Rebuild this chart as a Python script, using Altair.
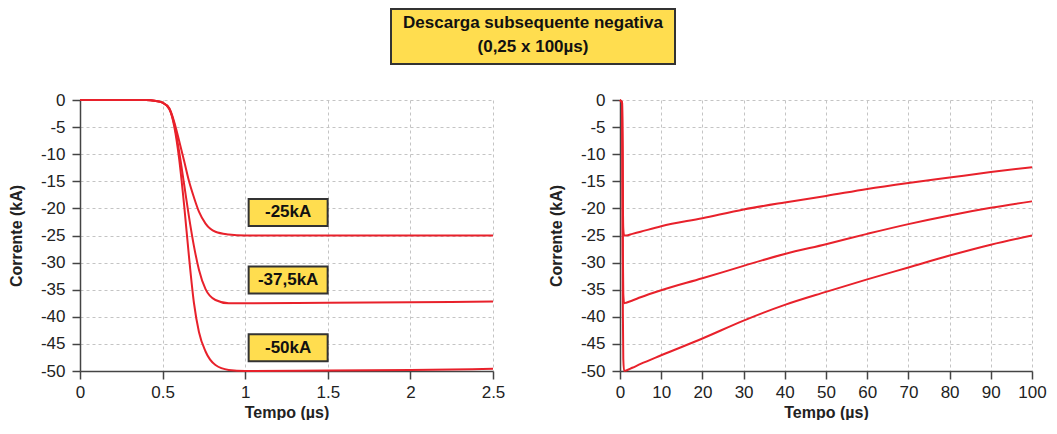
import altair as alt
import pandas as pd

# ---------------- data ----------------
TITLE_LINES = ["Descarga subsequente negativa", "(0,25 x 100µs)"]
SERIES = ["-25kA", "-37,5kA", "-50kA"]

# left panel: front of the wave (0 - 2.5 µs)
T_FRONT = [0, 0.3, 0.4, 0.46, 0.5, 0.54, 0.57, 0.60, 0.63, 0.66, 0.69, 0.72,
           0.76, 0.82, 0.90, 1.0, 1.5, 2.0, 2.5]
I_FRONT_25 = [0, 0, 0, -0.2, -0.5, -1.5, -4.0, -7.5, -11.2, -15.0, -18.0, -20.6,
              -22.8, -24.3, -24.8, -25.0, -25.0, -25.0, -25.0]
I_FRONT_375 = [0, 0, 0, -0.2, -0.5, -1.6, -4.4, -9.5, -15.5, -21.6, -27.0, -31.3,
               -34.9, -36.9, -37.5, -37.5, -37.4, -37.3, -37.2]
I_FRONT_50 = [0, 0, 0, -0.2, -0.5, -1.6, -4.8, -10.8, -19.3, -29.0, -37.5, -42.8,
              -46.4, -48.9, -49.8, -50.0, -49.9, -49.8, -49.6]

# right panel: whole wave (0 - 100 µs)
T_TAIL = [0, 0.5, 0.6, 0.7, 0.8, 1.0, 1.5, 3, 5, 10, 20, 30, 40, 50, 60, 70, 80, 90, 100]
I_TAIL_25 = [0, -0.5, -7.5, -18.8, -23.8, -25.0, -25.0, -24.7, -24.3, -23.3, -21.8,
             -20.2, -18.9, -17.7, -16.4, -15.3, -14.3, -13.3, -12.4]
I_TAIL_375 = [0, -0.5, -9.5, -28.5, -35.8, -37.5, -37.4, -37.0, -36.4, -35.1, -32.9,
              -30.6, -28.4, -26.6, -24.7, -22.9, -21.3, -19.9, -18.7]
I_TAIL_50 = [0, -0.5, -10.8, -39.5, -47.8, -50.0, -49.9, -49.4, -48.7, -47.1, -44.0,
             -40.7, -37.8, -35.4, -33.1, -30.9, -28.7, -26.7, -25.0]

# labels in the left panel
LABEL_T = [1.26, 1.26, 1.26]
LABEL_I = [-20.75, -33.2, -45.7]

X_TICKS_LEFT = [0, 0.5, 1, 1.5, 2, 2.5]
X_TICKS_RIGHT = [0, 10, 20, 30, 40, 50, 60, 70, 80, 90, 100]
Y_TICKS = [-50, -45, -40, -35, -30, -25, -20, -15, -10, -5, 0]

# ---------------- styles ----------------
RED = "#E8212B"
YELLOW = "#FFDD4F"
DARK = "#333333"
FONT = "Liberation Sans"


def long_df(t, series_vals):
    rows = []
    for name, vals in zip(SERIES, series_vals):
        for ti, vi in zip(t, vals):
            rows.append({"t": ti, "i": vi, "s": name})
    return pd.DataFrame(rows)


front = long_df(T_FRONT, [I_FRONT_25, I_FRONT_375, I_FRONT_50])
tail = long_df(T_TAIL, [I_TAIL_25, I_TAIL_375, I_TAIL_50])
labels = pd.DataFrame({"t": LABEL_T, "i": LABEL_I, "label": SERIES})

y_enc = alt.Y("i:Q", scale=alt.Scale(domain=[-50, 0], nice=False),
              axis=alt.Axis(values=Y_TICKS, title="Corrente (kA)",
                            labelExpr="toString(datum.value)"))


def x_enc(domain, ticks):
    return alt.X("t:Q", scale=alt.Scale(domain=domain, nice=False),
                 axis=alt.Axis(values=ticks, title="Tempo (µs)", labelFlush=False,
                               labelExpr="toString(datum.value)"))


x_left = x_enc([0, 2.5], X_TICKS_LEFT)

left_lines = alt.Chart(front).mark_line(
    color=RED, strokeWidth=2, interpolate="monotone"
).encode(x=x_left, y=y_enc, detail="s:N")

box = alt.Chart(labels).mark_point(
    shape="M-1,-0.342H1V0.342H-1Z", size=79 * 79, filled=True,
    fill=YELLOW, stroke=DARK, strokeWidth=2, opacity=1
).encode(x=x_left, y=y_enc)

box_text = alt.Chart(labels).mark_text(
    font=FONT, fontSize=17, fontWeight="bold", color="#111",
    align="center", baseline="middle"
).encode(x=x_left, y=y_enc, text="label:N")

# header box (pixel positions relative to the left plot area)
hdr_df = pd.DataFrame({"k": [0]})
hdr_box = alt.Chart(hdr_df).mark_rect(
    fill=YELLOW, stroke=DARK, strokeWidth=2
).encode(x=alt.value(311), x2=alt.value(595), y=alt.value(-91), y2=alt.value(-36))
hdr_text = alt.Chart(hdr_df).mark_text(
    font=FONT, fontSize=17, fontWeight="bold", color="#111",
    align="center", baseline="middle", lineHeight=24
).encode(x=alt.value(453), y=alt.value(-77), text=alt.value(TITLE_LINES))

left = alt.layer(left_lines, box, box_text, hdr_box, hdr_text).properties(
    width=413, height=271)

right = alt.Chart(tail).mark_line(
    color=RED, strokeWidth=2, interpolate="monotone"
).encode(x=x_enc([0, 100], X_TICKS_RIGHT), y=y_enc, detail="s:N"
         ).properties(width=412, height=271)

chart = alt.hconcat(left, right, spacing=127, bounds="flush").properties(
    padding=0
).configure_view(stroke=None).configure_axis(
    domainColor="#444", domainWidth=1.5,
    tickColor="#444", tickWidth=1.5, tickSize=8,
    grid=True, gridColor="#c4c4c4", gridDash=[3, 3], gridWidth=1,
    labelFont=FONT, labelFontSize=17, labelColor="#222", labelPadding=7,
    titleFont=FONT, titleFontSize=16, titleFontWeight="bold", titleColor="#222",
).configure_axisY(titlePadding=16).configure_axisX(titlePadding=4, labelPadding=5)

chart.save("out.html", embed_options={"renderer": "svg", "actions": False})
